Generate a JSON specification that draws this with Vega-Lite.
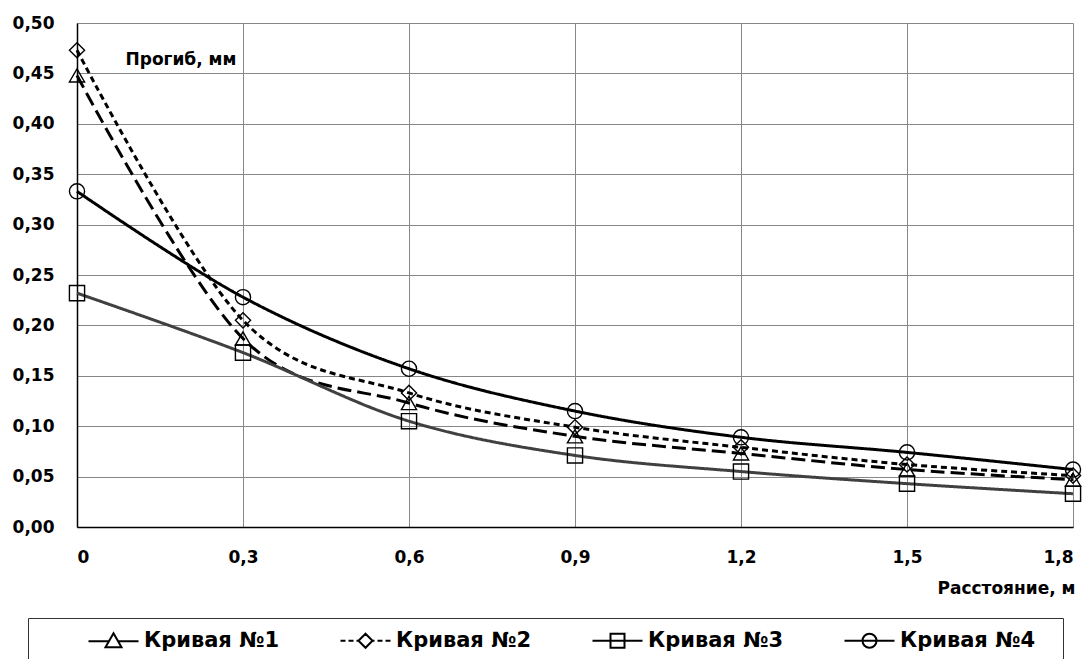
{
  "$schema": "https://vega.github.io/schema/vega-lite/v6.json",
  "autosize": "none",
  "width": 996,
  "height": 504,
  "padding": {"left": 77, "top": 23, "right": 16, "bottom": 132},
  "background": "white",
  "config": {
    "view": {"stroke": null},
    "font": "DejaVu Sans",
    "axis": {
      "labelFont": "DejaVu Sans", "labelFontWeight": "bold", "labelFontSize": 17, "labelColor": "black",
      "titleFont": "DejaVu Sans", "titleFontWeight": "bold", "titleColor": "black",
      "ticks": false, "tickSize": 0, "gridColor": "#878787", "gridWidth": 1, "gridOpacity": 1,
      "domainColor": "black", "domainWidth": 1.5
    }
  },
  "data": {
    "values": [
      {"curve": "Кривая №1", "x": 0, "y": 0.448},
      {"curve": "Кривая №1", "x": 0.3, "y": 0.187},
      {"curve": "Кривая №1", "x": 0.6, "y": 0.123},
      {"curve": "Кривая №1", "x": 0.9, "y": 0.090},
      {"curve": "Кривая №1", "x": 1.2, "y": 0.073},
      {"curve": "Кривая №1", "x": 1.5, "y": 0.057},
      {"curve": "Кривая №1", "x": 1.8, "y": 0.047},
      {"curve": "Кривая №2", "x": 0, "y": 0.473},
      {"curve": "Кривая №2", "x": 0.3, "y": 0.205},
      {"curve": "Кривая №2", "x": 0.6, "y": 0.133},
      {"curve": "Кривая №2", "x": 0.9, "y": 0.099},
      {"curve": "Кривая №2", "x": 1.2, "y": 0.079},
      {"curve": "Кривая №2", "x": 1.5, "y": 0.062},
      {"curve": "Кривая №2", "x": 1.8, "y": 0.051},
      {"curve": "Кривая №3", "x": 0, "y": 0.232},
      {"curve": "Кривая №3", "x": 0.3, "y": 0.173},
      {"curve": "Кривая №3", "x": 0.6, "y": 0.105},
      {"curve": "Кривая №3", "x": 0.9, "y": 0.071},
      {"curve": "Кривая №3", "x": 1.2, "y": 0.055},
      {"curve": "Кривая №3", "x": 1.5, "y": 0.043},
      {"curve": "Кривая №3", "x": 1.8, "y": 0.033},
      {"curve": "Кривая №4", "x": 0, "y": 0.333},
      {"curve": "Кривая №4", "x": 0.3, "y": 0.228},
      {"curve": "Кривая №4", "x": 0.6, "y": 0.157},
      {"curve": "Кривая №4", "x": 0.9, "y": 0.115},
      {"curve": "Кривая №4", "x": 1.2, "y": 0.089},
      {"curve": "Кривая №4", "x": 1.5, "y": 0.074},
      {"curve": "Кривая №4", "x": 1.8, "y": 0.057}
    ]
  },
  "encoding": {
    "x": {
      "field": "x", "type": "quantitative",
      "scale": {"domain": [0, 1.8], "nice": false, "zero": false},
      "axis": {
        "values": [0, 0.3, 0.6, 0.9, 1.2, 1.5, 1.8],
        "labelExpr": "datum.value == 0 ? '0' : replace(format(datum.value, '.1f'), '.', ',')",
        "labelPadding": 22,
        "title": "Расстояние, м", "titleFontSize": 17,
        "titleAlign": "right", "titleAnchor": "end", "titleBaseline": "alphabetic",
        "titleX": 998, "titleY": 66
      }
    },
    "y": {
      "field": "y", "type": "quantitative",
      "scale": {"domain": [0, 0.5], "nice": false},
      "axis": {
        "values": [0, 0.05, 0.1, 0.15, 0.2, 0.25, 0.3, 0.35, 0.4, 0.45, 0.5],
        "labelExpr": "replace(format(datum.value, '.2f'), '.', ',')",
        "labelPadding": 23,
        "title": "Прогиб, мм", "titleFontSize": 17, "titleAngle": 0,
        "titleAlign": "left", "titleBaseline": "alphabetic",
        "titleX": 48, "titleY": 41
      }
    }
  },
  "layer": [
    {
      "mark": {"type": "line", "interpolate": "cardinal"},
      "encoding": {
        "detail": {"field": "curve"},
        "color": {
          "field": "curve", "type": "nominal",
          "scale": {"domain": ["Кривая №1", "Кривая №2", "Кривая №3", "Кривая №4"], "range": ["black", "black", "#404040", "black"]},
          "legend": null
        },
        "strokeDash": {
          "field": "curve", "type": "nominal",
          "scale": {"domain": ["Кривая №1", "Кривая №2", "Кривая №3", "Кривая №4"], "range": [[14, 6], [6, 4], [1, 0], [1, 0]]},
          "legend": null
        },
        "strokeWidth": {
          "field": "curve", "type": "nominal",
          "scale": {"domain": ["Кривая №1", "Кривая №2", "Кривая №3", "Кривая №4"], "range": [3, 3, 2.5, 3]},
          "legend": null
        }
      }
    },
    {
      "mark": {"type": "point", "filled": false, "stroke": "black", "strokeWidth": 1.4, "size": 230, "opacity": 1},
      "encoding": {
        "shape": {
          "field": "curve", "type": "nominal",
          "scale": {"domain": ["Кривая №1", "Кривая №2", "Кривая №3", "Кривая №4"], "range": ["triangle-up", "diamond", "square", "circle"]},
          "legend": null
        }
      }
    },
    {
      "mark": {"type": "point", "filled": false, "stroke": "black", "size": 4, "opacity": 0},
      "encoding": {
        "shape": {
          "field": "curve", "type": "nominal",
          "scale": {
            "domain": ["Кривая №1", "Кривая №2", "Кривая №3", "Кривая №4"],
            "range": [
              "M38,0H58.4M67.6,0H88M63,-8L71,6L55,6Z",
              "M38,0H43M46,0H51M54,0H56M70,0H72M75,0H80M83,0H88M56,0L63,-7L70,0L63,7Z",
              "M38,0H88M56,-7H70V7H56Z",
              "M38,0H88M56,0A7,7 0 1,0 70,0A7,7 0 1,0 56,0M240,0h0"
            ]
          },
          "legend": {
            "title": null,
            "orient": "none", "legendX": -49, "legendY": 595,
            "direction": "horizontal",
            "symbolSize": 4, "symbolStrokeWidth": 2, "symbolStrokeColor": "black", "symbolFillColor": "transparent", "symbolOpacity": 1,
            "labelFont": "DejaVu Sans", "labelFontWeight": "bold", "labelFontSize": 21, "labelColor": "black",
            "labelOffset": 83, "labelLimit": 400, "columnPadding": 12,
            "padding": 12, "strokeColor": "#333333"
          }
        }
      }
    }
  ],
  "resolve": {"scale": {"shape": "independent"}, "legend": {"shape": "independent"}}
}
